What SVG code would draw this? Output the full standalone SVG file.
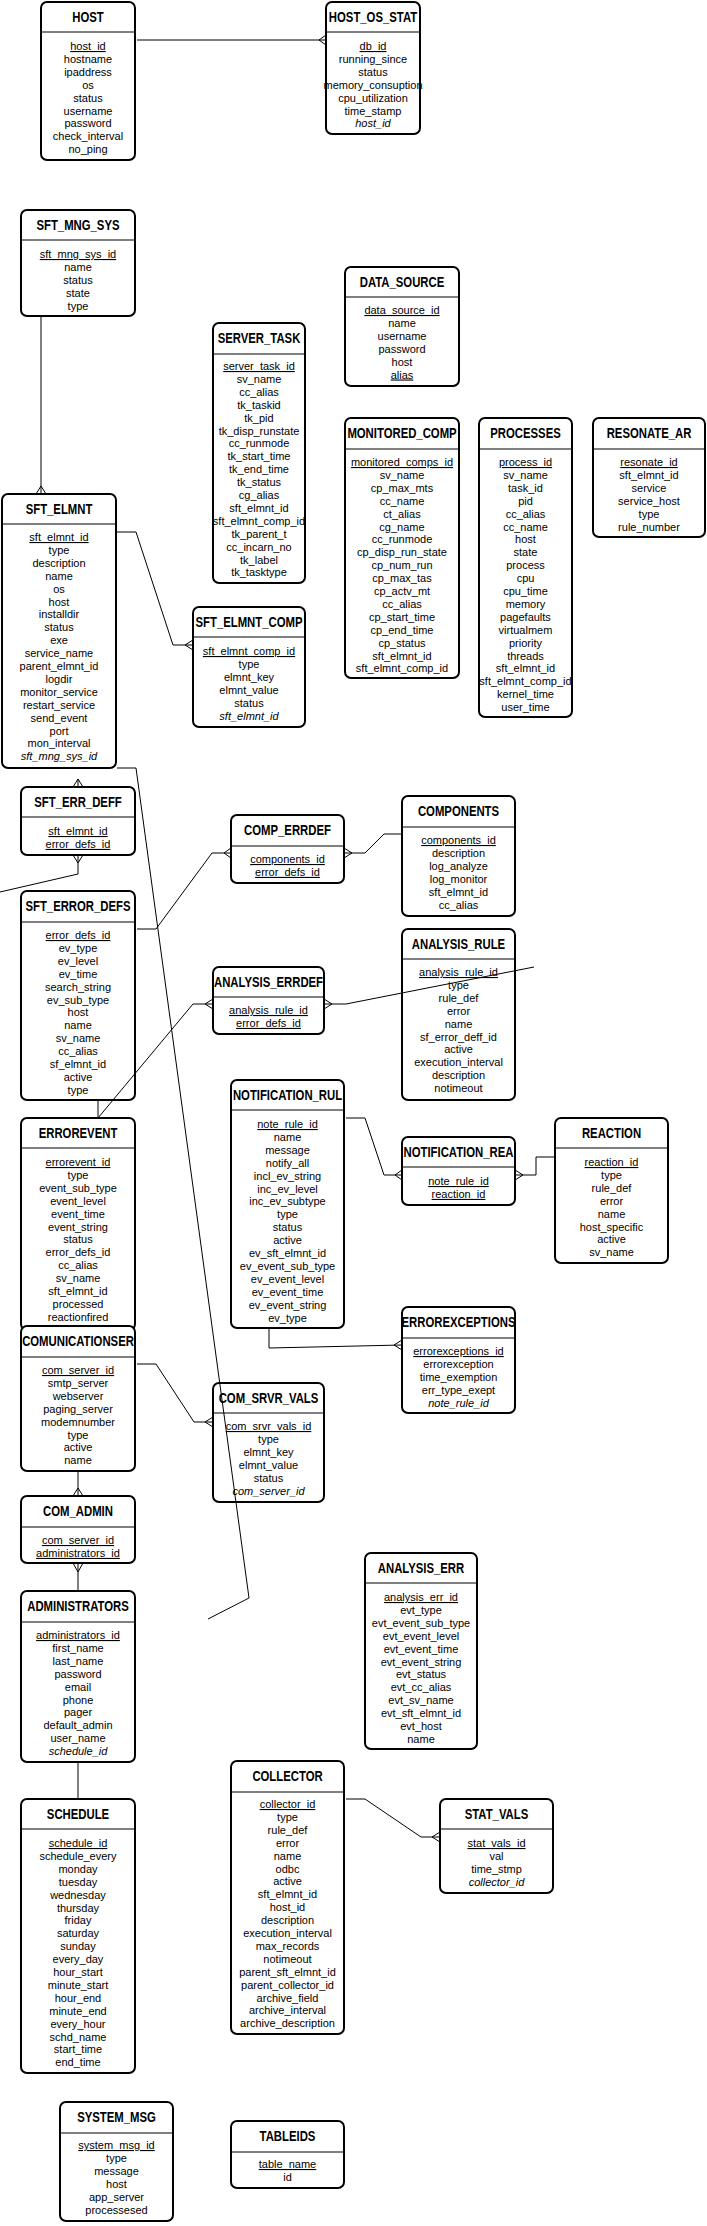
<svg xmlns="http://www.w3.org/2000/svg" width="707" height="2226" viewBox="0 0 707 2226">
<style>
.n rect{fill:#fff;stroke:#000;stroke-width:2}
.n line{stroke:#000;stroke-width:1}
.t{font-family:"Liberation Sans",Arial,sans-serif;font-size:14px;font-weight:bold;text-anchor:middle;fill:#000}
.f{font-family:"Liberation Sans",Arial,sans-serif;font-size:11px;text-anchor:middle;fill:#000}
.k{text-decoration:underline}
.i{font-style:italic}
#connectors{stroke:#000;stroke-width:1;fill:none}
</style>
<rect width="707" height="2226" fill="#fff"/>

<g id="HOST" class="n">
<rect x="41" y="2" width="94" height="158" rx="6"/><line x1="41" y1="32" x2="135" y2="32"/>
<text class="t" transform="translate(88,22) scale(0.81,1)">HOST</text>
<text class="f k" x="88" y="50">host_id</text>
<text class="f" x="88" y="50"><tspan x="88" dy="12.9">hostname</tspan><tspan x="88" dy="12.9">ipaddress</tspan><tspan x="88" dy="12.9">os</tspan><tspan x="88" dy="12.9">status</tspan><tspan x="88" dy="12.9">username</tspan><tspan x="88" dy="12.9">password</tspan><tspan x="88" dy="12.9">check_interval</tspan><tspan x="88" dy="12.9">no_ping</tspan></text>
</g>

<g id="HOST_OS_STAT" class="n">
<rect x="326" y="2" width="94" height="132" rx="6"/><line x1="326" y1="32" x2="420" y2="32"/>
<text class="t" transform="translate(373,22) scale(0.81,1)">HOST_OS_STAT</text>
<text class="f k" x="373" y="50">db_id</text>
<text class="f" x="373" y="50"><tspan x="373" dy="12.9">running_since</tspan><tspan x="373" dy="12.9">status</tspan><tspan x="373" dy="12.9">memory_consuption</tspan><tspan x="373" dy="12.9">cpu_utilization</tspan><tspan x="373" dy="12.9">time_stamp</tspan><tspan x="373" dy="12.9" class="i">host_id</tspan></text>
</g>

<g id="SFT_MNG_SYS" class="n">
<rect x="21" y="210" width="114" height="106" rx="6"/><line x1="21" y1="240" x2="135" y2="240"/>
<text class="t" transform="translate(78,230) scale(0.81,1)">SFT_MNG_SYS</text>
<text class="f k" x="78" y="258">sft_mng_sys_id</text>
<text class="f" x="78" y="258"><tspan x="78" dy="12.9">name</tspan><tspan x="78" dy="12.9">status</tspan><tspan x="78" dy="12.9">state</tspan><tspan x="78" dy="12.9">type</tspan></text>
</g>

<g id="DATA_SOURCE" class="n">
<rect x="345" y="267" width="114" height="119" rx="6"/><line x1="345" y1="297" x2="459" y2="297"/>
<text class="t" transform="translate(402,287) scale(0.81,1)">DATA_SOURCE</text>
<text class="f k" x="402" y="314">data_source_id</text>
<text class="f" x="402" y="314"><tspan x="402" dy="12.9">name</tspan><tspan x="402" dy="12.9">username</tspan><tspan x="402" dy="12.9">password</tspan><tspan x="402" dy="12.9">host</tspan></text>
<text class="f k" x="402" y="378.5">alias</text>
</g>

<g id="SERVER_TASK" class="n">
<rect x="213" y="323" width="92" height="260" rx="6"/><line x1="213" y1="354" x2="305" y2="354"/>
<text class="t" transform="translate(259,343) scale(0.81,1)">SERVER_TASK</text>
<text class="f k" x="259" y="370">server_task_id</text>
<text class="f" x="259" y="370"><tspan x="259" dy="12.9">sv_name</tspan><tspan x="259" dy="12.9">cc_alias</tspan><tspan x="259" dy="12.9">tk_taskid</tspan><tspan x="259" dy="12.9">tk_pid</tspan><tspan x="259" dy="12.9">tk_disp_runstate</tspan><tspan x="259" dy="12.9">cc_runmode</tspan><tspan x="259" dy="12.9">tk_start_time</tspan><tspan x="259" dy="12.9">tk_end_time</tspan><tspan x="259" dy="12.9">tk_status</tspan><tspan x="259" dy="12.9">cg_alias</tspan><tspan x="259" dy="12.9">sft_elmnt_id</tspan><tspan x="259" dy="12.9">sft_elmnt_comp_id</tspan><tspan x="259" dy="12.9">tk_parent_t</tspan><tspan x="259" dy="12.9">cc_incarn_no</tspan><tspan x="259" dy="12.9">tk_label</tspan><tspan x="259" dy="12.9">tk_tasktype</tspan></text>
</g>

<g id="MONITORED_COMP" class="n">
<rect x="345" y="418" width="114" height="260" rx="6"/><line x1="345" y1="449" x2="459" y2="449"/>
<text class="t" transform="translate(402,438) scale(0.81,1)">MONITORED_COMP</text>
<text class="f k" x="402" y="466">monitored_comps_id</text>
<text class="f" x="402" y="466"><tspan x="402" dy="12.9">sv_name</tspan><tspan x="402" dy="12.9">cp_max_mts</tspan><tspan x="402" dy="12.9">cc_name</tspan><tspan x="402" dy="12.9">ct_alias</tspan><tspan x="402" dy="12.9">cg_name</tspan><tspan x="402" dy="12.9">cc_runmode</tspan><tspan x="402" dy="12.9">cp_disp_run_state</tspan><tspan x="402" dy="12.9">cp_num_run</tspan><tspan x="402" dy="12.9">cp_max_tas</tspan><tspan x="402" dy="12.9">cp_actv_mt</tspan><tspan x="402" dy="12.9">cc_alias</tspan><tspan x="402" dy="12.9">cp_start_time</tspan><tspan x="402" dy="12.9">cp_end_time</tspan><tspan x="402" dy="12.9">cp_status</tspan><tspan x="402" dy="12.9">sft_elmnt_id</tspan><tspan x="402" dy="12.9">sft_elmnt_comp_id</tspan></text>
</g>

<g id="PROCESSES" class="n">
<rect x="479" y="418" width="93" height="299" rx="6"/><line x1="479" y1="449" x2="572" y2="449"/>
<text class="t" transform="translate(525.5,438) scale(0.81,1)">PROCESSES</text>
<text class="f k" x="525.5" y="466">process_id</text>
<text class="f" x="525.5" y="466"><tspan x="525.5" dy="12.9">sv_name</tspan><tspan x="525.5" dy="12.9">task_id</tspan><tspan x="525.5" dy="12.9">pid</tspan><tspan x="525.5" dy="12.9">cc_alias</tspan><tspan x="525.5" dy="12.9">cc_name</tspan><tspan x="525.5" dy="12.9">host</tspan><tspan x="525.5" dy="12.9">state</tspan><tspan x="525.5" dy="12.9">process</tspan><tspan x="525.5" dy="12.9">cpu</tspan><tspan x="525.5" dy="12.9">cpu_time</tspan><tspan x="525.5" dy="12.9">memory</tspan><tspan x="525.5" dy="12.9">pagefaults</tspan><tspan x="525.5" dy="12.9">virtualmem</tspan><tspan x="525.5" dy="12.9">priority</tspan><tspan x="525.5" dy="12.9">threads</tspan><tspan x="525.5" dy="12.9">sft_elmnt_id</tspan><tspan x="525.5" dy="12.9">sft_elmnt_comp_id</tspan><tspan x="525.5" dy="12.9">kernel_time</tspan><tspan x="525.5" dy="12.9">user_time</tspan></text>
</g>

<g id="RESONATE_AR" class="n">
<rect x="593" y="418" width="112" height="119" rx="6"/><line x1="593" y1="449" x2="705" y2="449"/>
<text class="t" transform="translate(649,438) scale(0.81,1)">RESONATE_AR</text>
<text class="f k" x="649" y="466">resonate_id</text>
<text class="f" x="649" y="466"><tspan x="649" dy="12.9">sft_elmnt_id</tspan><tspan x="649" dy="12.9">service</tspan><tspan x="649" dy="12.9">service_host</tspan><tspan x="649" dy="12.9">type</tspan><tspan x="649" dy="12.9">rule_number</tspan></text>
</g>

<g id="SFT_ELMNT" class="n">
<rect x="2" y="494" width="114" height="274" rx="6"/><line x1="2" y1="524" x2="116" y2="524"/>
<text class="t" transform="translate(59,514) scale(0.81,1)">SFT_ELMNT</text>
<text class="f k" x="59" y="541">sft_elmnt_id</text>
<text class="f" x="59" y="541"><tspan x="59" dy="12.9">type</tspan><tspan x="59" dy="12.9">description</tspan><tspan x="59" dy="12.9">name</tspan><tspan x="59" dy="12.9">os</tspan><tspan x="59" dy="12.9">host</tspan><tspan x="59" dy="12.9">installdir</tspan><tspan x="59" dy="12.9">status</tspan><tspan x="59" dy="12.9">exe</tspan><tspan x="59" dy="12.9">service_name</tspan><tspan x="59" dy="12.9">parent_elmnt_id</tspan><tspan x="59" dy="12.9">logdir</tspan><tspan x="59" dy="12.9">monitor_service</tspan><tspan x="59" dy="12.9">restart_service</tspan><tspan x="59" dy="12.9">send_event</tspan><tspan x="59" dy="12.9">port</tspan><tspan x="59" dy="12.9">mon_interval</tspan><tspan x="59" dy="12.9" class="i">sft_mng_sys_id</tspan></text>
</g>

<g id="SFT_ELMNT_COMP" class="n">
<rect x="193" y="607" width="112" height="120" rx="6"/><line x1="193" y1="637" x2="305" y2="637"/>
<text class="t" transform="translate(249,627) scale(0.81,1)">SFT_ELMNT_COMP</text>
<text class="f k" x="249" y="655">sft_elmnt_comp_id</text>
<text class="f" x="249" y="655"><tspan x="249" dy="12.9">type</tspan><tspan x="249" dy="12.9">elmnt_key</tspan><tspan x="249" dy="12.9">elmnt_value</tspan><tspan x="249" dy="12.9">status</tspan><tspan x="249" dy="12.9" class="i">sft_elmnt_id</tspan></text>
</g>

<g id="SFT_ERR_DEFF" class="n">
<rect x="21" y="787" width="114" height="68" rx="6"/><line x1="21" y1="817" x2="135" y2="817"/>
<text class="t" transform="translate(78,807) scale(0.81,1)">SFT_ERR_DEFF</text>
<text class="f k" x="78" y="835">sft_elmnt_id</text>
<text class="f k" x="78" y="847.9">error_defs_id</text>
</g>

<g id="COMP_ERRDEF" class="n">
<rect x="231" y="815" width="113" height="68" rx="6"/><line x1="231" y1="846" x2="344" y2="846"/>
<text class="t" transform="translate(287.5,835) scale(0.81,1)">COMP_ERRDEF</text>
<text class="f k" x="287.5" y="863">components_id</text>
<text class="f k" x="287.5" y="875.9">error_defs_id</text>
</g>

<g id="COMPONENTS" class="n">
<rect x="402" y="796" width="113" height="120" rx="6"/><line x1="402" y1="827" x2="515" y2="827"/>
<text class="t" transform="translate(458.5,816) scale(0.81,1)">COMPONENTS</text>
<text class="f k" x="458.5" y="844">components_id</text>
<text class="f" x="458.5" y="844"><tspan x="458.5" dy="12.9">description</tspan><tspan x="458.5" dy="12.9">log_analyze</tspan><tspan x="458.5" dy="12.9">log_monitor</tspan><tspan x="458.5" dy="12.9">sft_elmnt_id</tspan><tspan x="458.5" dy="12.9">cc_alias</tspan></text>
</g>

<g id="SFT_ERROR_DEFS" class="n">
<rect x="21" y="891" width="114" height="209" rx="6"/><line x1="21" y1="922" x2="135" y2="922"/>
<text class="t" transform="translate(78,911) scale(0.81,1)">SFT_ERROR_DEFS</text>
<text class="f k" x="78" y="939">error_defs_id</text>
<text class="f" x="78" y="939"><tspan x="78" dy="12.9">ev_type</tspan><tspan x="78" dy="12.9">ev_level</tspan><tspan x="78" dy="12.9">ev_time</tspan><tspan x="78" dy="12.9">search_string</tspan><tspan x="78" dy="12.9">ev_sub_type</tspan><tspan x="78" dy="12.9">host</tspan><tspan x="78" dy="12.9">name</tspan><tspan x="78" dy="12.9">sv_name</tspan><tspan x="78" dy="12.9">cc_alias</tspan><tspan x="78" dy="12.9">sf_elmnt_id</tspan><tspan x="78" dy="12.9">active</tspan><tspan x="78" dy="12.9">type</tspan></text>
</g>

<g id="ANALYSIS_RULE" class="n">
<rect x="402" y="929" width="113" height="171" rx="6"/><line x1="402" y1="959" x2="515" y2="959"/>
<text class="t" transform="translate(458.5,949) scale(0.81,1)">ANALYSIS_RULE</text>
<text class="f k" x="458.5" y="976">analysis_rule_id</text>
<text class="f" x="458.5" y="976"><tspan x="458.5" dy="12.9">type</tspan><tspan x="458.5" dy="12.9">rule_def</tspan><tspan x="458.5" dy="12.9">error</tspan><tspan x="458.5" dy="12.9">name</tspan><tspan x="458.5" dy="12.9">sf_error_deff_id</tspan><tspan x="458.5" dy="12.9">active</tspan><tspan x="458.5" dy="12.9">execution_interval</tspan><tspan x="458.5" dy="12.9">description</tspan><tspan x="458.5" dy="12.9">notimeout</tspan></text>
</g>

<g id="ANALYSIS_ERRDEF" class="n">
<rect x="213" y="967" width="111" height="67" rx="6"/><line x1="213" y1="997" x2="324" y2="997"/>
<text class="t" transform="translate(268.5,987) scale(0.81,1)">ANALYSIS_ERRDEF</text>
<text class="f k" x="268.5" y="1014">analysis_rule_id</text>
<text class="f k" x="268.5" y="1026.9">error_defs_id</text>
</g>

<g id="NOTIFICATION_RUL" class="n">
<rect x="231" y="1080" width="113" height="248" rx="6"/><line x1="231" y1="1110" x2="344" y2="1110"/>
<text class="t" transform="translate(287.5,1100) scale(0.81,1)">NOTIFICATION_RUL</text>
<text class="f k" x="287.5" y="1128">note_rule_id</text>
<text class="f" x="287.5" y="1128"><tspan x="287.5" dy="12.9">name</tspan><tspan x="287.5" dy="12.9">message</tspan><tspan x="287.5" dy="12.9">notify_all</tspan><tspan x="287.5" dy="12.9">incl_ev_string</tspan><tspan x="287.5" dy="12.9">inc_ev_level</tspan><tspan x="287.5" dy="12.9">inc_ev_subtype</tspan><tspan x="287.5" dy="12.9">type</tspan><tspan x="287.5" dy="12.9">status</tspan><tspan x="287.5" dy="12.9">active</tspan><tspan x="287.5" dy="12.9">ev_sft_elmnt_id</tspan><tspan x="287.5" dy="12.9">ev_event_sub_type</tspan><tspan x="287.5" dy="12.9">ev_event_level</tspan><tspan x="287.5" dy="12.9">ev_event_time</tspan><tspan x="287.5" dy="12.9">ev_event_string</tspan><tspan x="287.5" dy="12.9">ev_type</tspan></text>
</g>

<g id="NOTIFICATION_REA" class="n">
<rect x="402" y="1137" width="113" height="68" rx="6"/><line x1="402" y1="1167" x2="515" y2="1167"/>
<text class="t" transform="translate(458.5,1157) scale(0.81,1)">NOTIFICATION_REA</text>
<text class="f k" x="458.5" y="1185">note_rule_id</text>
<text class="f k" x="458.5" y="1197.9">reaction_id</text>
</g>

<g id="REACTION" class="n">
<rect x="555" y="1118" width="113" height="145" rx="6"/><line x1="555" y1="1148" x2="668" y2="1148"/>
<text class="t" transform="translate(611.5,1138) scale(0.81,1)">REACTION</text>
<text class="f k" x="611.5" y="1166">reaction_id</text>
<text class="f" x="611.5" y="1166"><tspan x="611.5" dy="12.9">type</tspan><tspan x="611.5" dy="12.9">rule_def</tspan><tspan x="611.5" dy="12.9">error</tspan><tspan x="611.5" dy="12.9">name</tspan><tspan x="611.5" dy="12.9">host_specific</tspan><tspan x="611.5" dy="12.9">active</tspan><tspan x="611.5" dy="12.9">sv_name</tspan></text>
</g>

<g id="ERROREVENT" class="n">
<rect x="21" y="1118" width="114" height="212" rx="6"/><line x1="21" y1="1148" x2="135" y2="1148"/>
<text class="t" transform="translate(78,1138) scale(0.81,1)">ERROREVENT</text>
<text class="f k" x="78" y="1166">errorevent_id</text>
<text class="f" x="78" y="1166"><tspan x="78" dy="12.9">type</tspan><tspan x="78" dy="12.9">event_sub_type</tspan><tspan x="78" dy="12.9">event_level</tspan><tspan x="78" dy="12.9">event_time</tspan><tspan x="78" dy="12.9">event_string</tspan><tspan x="78" dy="12.9">status</tspan><tspan x="78" dy="12.9">error_defs_id</tspan><tspan x="78" dy="12.9">cc_alias</tspan><tspan x="78" dy="12.9">sv_name</tspan><tspan x="78" dy="12.9">sft_elmnt_id</tspan><tspan x="78" dy="12.9">processed</tspan><tspan x="78" dy="12.9">reactionfired</tspan></text>
</g>

<g id="COMUNICATIONSER" class="n">
<rect x="21" y="1326" width="114" height="145" rx="6"/><line x1="21" y1="1357" x2="135" y2="1357"/>
<text class="t" transform="translate(78,1346) scale(0.81,1)">COMUNICATIONSER</text>
<text class="f k" x="78" y="1374">com_server_id</text>
<text class="f" x="78" y="1374"><tspan x="78" dy="12.9">smtp_server</tspan><tspan x="78" dy="12.9">webserver</tspan><tspan x="78" dy="12.9">paging_server</tspan><tspan x="78" dy="12.9">modemnumber</tspan><tspan x="78" dy="12.9">type</tspan><tspan x="78" dy="12.9">active</tspan><tspan x="78" dy="12.9">name</tspan></text>
</g>

<g id="COM_SRVR_VALS" class="n">
<rect x="213" y="1383" width="111" height="119" rx="6"/><line x1="213" y1="1413" x2="324" y2="1413"/>
<text class="t" transform="translate(268.5,1403) scale(0.81,1)">COM_SRVR_VALS</text>
<text class="f k" x="268.5" y="1430">com_srvr_vals_id</text>
<text class="f" x="268.5" y="1430"><tspan x="268.5" dy="12.9">type</tspan><tspan x="268.5" dy="12.9">elmnt_key</tspan><tspan x="268.5" dy="12.9">elmnt_value</tspan><tspan x="268.5" dy="12.9">status</tspan><tspan x="268.5" dy="12.9" class="i">com_server_id</tspan></text>
</g>

<g id="ERROREXCEPTIONS" class="n">
<rect x="402" y="1307" width="113" height="106" rx="6"/><line x1="402" y1="1338" x2="515" y2="1338"/>
<text class="t" transform="translate(458.5,1327) scale(0.81,1)">ERROREXCEPTIONS</text>
<text class="f k" x="458.5" y="1355">errorexceptions_id</text>
<text class="f" x="458.5" y="1355"><tspan x="458.5" dy="12.9">errorexception</tspan><tspan x="458.5" dy="12.9">time_exemption</tspan><tspan x="458.5" dy="12.9">err_type_exept</tspan><tspan x="458.5" dy="12.9" class="i">note_rule_id</tspan></text>
</g>

<g id="COM_ADMIN" class="n">
<rect x="21" y="1496" width="114" height="67" rx="6"/><line x1="21" y1="1527" x2="135" y2="1527"/>
<text class="t" transform="translate(78,1516) scale(0.81,1)">COM_ADMIN</text>
<text class="f k" x="78" y="1544">com_server_id</text>
<text class="f k" x="78" y="1556.9">administrators_id</text>
</g>

<g id="ADMINISTRATORS" class="n">
<rect x="21" y="1591" width="114" height="171" rx="6"/><line x1="21" y1="1622" x2="135" y2="1622"/>
<text class="t" transform="translate(78,1611) scale(0.81,1)">ADMINISTRATORS</text>
<text class="f k" x="78" y="1639">administrators_id</text>
<text class="f" x="78" y="1639"><tspan x="78" dy="12.9">first_name</tspan><tspan x="78" dy="12.9">last_name</tspan><tspan x="78" dy="12.9">password</tspan><tspan x="78" dy="12.9">email</tspan><tspan x="78" dy="12.9">phone</tspan><tspan x="78" dy="12.9">pager</tspan><tspan x="78" dy="12.9">default_admin</tspan><tspan x="78" dy="12.9">user_name</tspan><tspan x="78" dy="12.9" class="i">schedule_id</tspan></text>
</g>

<g id="ANALYSIS_ERR" class="n">
<rect x="365" y="1553" width="112" height="196" rx="6"/><line x1="365" y1="1583" x2="477" y2="1583"/>
<text class="t" transform="translate(421,1573) scale(0.81,1)">ANALYSIS_ERR</text>
<text class="f k" x="421" y="1601">analysis_err_id</text>
<text class="f" x="421" y="1601"><tspan x="421" dy="12.9">evt_type</tspan><tspan x="421" dy="12.9">evt_event_sub_type</tspan><tspan x="421" dy="12.9">evt_event_level</tspan><tspan x="421" dy="12.9">evt_event_time</tspan><tspan x="421" dy="12.9">evt_event_string</tspan><tspan x="421" dy="12.9">evt_status</tspan><tspan x="421" dy="12.9">evt_cc_alias</tspan><tspan x="421" dy="12.9">evt_sv_name</tspan><tspan x="421" dy="12.9">evt_sft_elmnt_id</tspan><tspan x="421" dy="12.9">evt_host</tspan><tspan x="421" dy="12.9">name</tspan></text>
</g>

<g id="COLLECTOR" class="n">
<rect x="231" y="1761" width="113" height="273" rx="6"/><line x1="231" y1="1792" x2="344" y2="1792"/>
<text class="t" transform="translate(287.5,1781) scale(0.81,1)">COLLECTOR</text>
<text class="f k" x="287.5" y="1808">collector_id</text>
<text class="f" x="287.5" y="1808"><tspan x="287.5" dy="12.9">type</tspan><tspan x="287.5" dy="12.9">rule_def</tspan><tspan x="287.5" dy="12.9">error</tspan><tspan x="287.5" dy="12.9">name</tspan><tspan x="287.5" dy="12.9">odbc</tspan><tspan x="287.5" dy="12.9">active</tspan><tspan x="287.5" dy="12.9">sft_elmnt_id</tspan><tspan x="287.5" dy="12.9">host_id</tspan><tspan x="287.5" dy="12.9">description</tspan><tspan x="287.5" dy="12.9">execution_interval</tspan><tspan x="287.5" dy="12.9">max_records</tspan><tspan x="287.5" dy="12.9">notimeout</tspan><tspan x="287.5" dy="12.9">parent_sft_elmnt_id</tspan><tspan x="287.5" dy="12.9">parent_collector_id</tspan><tspan x="287.5" dy="12.9">archive_field</tspan><tspan x="287.5" dy="12.9">archive_interval</tspan><tspan x="287.5" dy="12.9">archive_description</tspan></text>
</g>

<g id="STAT_VALS" class="n">
<rect x="440" y="1799" width="113" height="94" rx="6"/><line x1="440" y1="1829" x2="553" y2="1829"/>
<text class="t" transform="translate(496.5,1819) scale(0.81,1)">STAT_VALS</text>
<text class="f k" x="496.5" y="1847">stat_vals_id</text>
<text class="f" x="496.5" y="1847"><tspan x="496.5" dy="12.9">val</tspan><tspan x="496.5" dy="12.9">time_stmp</tspan><tspan x="496.5" dy="12.9" class="i">collector_id</tspan></text>
</g>

<g id="SCHEDULE" class="n">
<rect x="21" y="1799" width="114" height="274" rx="6"/><line x1="21" y1="1829" x2="135" y2="1829"/>
<text class="t" transform="translate(78,1819) scale(0.81,1)">SCHEDULE</text>
<text class="f k" x="78" y="1847">schedule_id</text>
<text class="f" x="78" y="1847"><tspan x="78" dy="12.9">schedule_every</tspan><tspan x="78" dy="12.9">monday</tspan><tspan x="78" dy="12.9">tuesday</tspan><tspan x="78" dy="12.9">wednesday</tspan><tspan x="78" dy="12.9">thursday</tspan><tspan x="78" dy="12.9">friday</tspan><tspan x="78" dy="12.9">saturday</tspan><tspan x="78" dy="12.9">sunday</tspan><tspan x="78" dy="12.9">every_day</tspan><tspan x="78" dy="12.9">hour_start</tspan><tspan x="78" dy="12.9">minute_start</tspan><tspan x="78" dy="12.9">hour_end</tspan><tspan x="78" dy="12.9">minute_end</tspan><tspan x="78" dy="12.9">every_hour</tspan><tspan x="78" dy="12.9">schd_name</tspan><tspan x="78" dy="12.9">start_time</tspan><tspan x="78" dy="12.9">end_time</tspan></text>
</g>

<g id="SYSTEM_MSG" class="n">
<rect x="60" y="2102" width="113" height="119" rx="6"/><line x1="60" y1="2133" x2="173" y2="2133"/>
<text class="t" transform="translate(116.5,2122) scale(0.81,1)">SYSTEM_MSG</text>
<text class="f k" x="116.5" y="2149">system_msg_id</text>
<text class="f" x="116.5" y="2149"><tspan x="116.5" dy="12.9">type</tspan><tspan x="116.5" dy="12.9">message</tspan><tspan x="116.5" dy="12.9">host</tspan><tspan x="116.5" dy="12.9">app_server</tspan><tspan x="116.5" dy="12.9">processesed</tspan></text>
</g>

<g id="TABLEIDS" class="n">
<rect x="231" y="2121" width="113" height="67" rx="6"/><line x1="231" y1="2152" x2="344" y2="2152"/>
<text class="t" transform="translate(287.5,2141) scale(0.81,1)">TABLEIDS</text>
<text class="f k" x="287.5" y="2168">table_name</text>
<text class="f" x="287.5" y="2168"><tspan x="287.5" dy="12.9">id</tspan></text>
</g>

<g id="connectors">
<polyline points="137,40 326,40"/><polyline points="326,35 319,40 326,45"/>
<polyline points="41,316 41,494"/><polyline points="36,494 41,486 46,494"/>
<polyline points="117,532 136,532 173,645 193,645"/><polyline points="193,640 185,645 193,650"/>
<polyline points="73,787 78,779 83,787"/><polyline points="78,779 78,787"/>
<polyline points="73,855 78,863 83,855"/><polyline points="78,855 78,874 0,892"/>
<polyline points="117,768 136,768 249,1598 208,1619"/>
<polyline points="137,929 156,929 212,853 231,853"/><polyline points="231,848 224,853 231,858"/>
<polyline points="344,853 365,853 384,834 402,834"/><polyline points="344,848 352,853 344,858"/>
<polyline points="213,1004 193,1004 98,1118"/><polyline points="213,999 205,1004 213,1009"/>
<polyline points="98,1100 98,1118"/>
<polyline points="324,1004 346,1004 534,967"/><polyline points="324,999 332,1004 324,1009"/>
<polyline points="346,1118 365,1118 384,1175 402,1175"/><polyline points="402,1170 395,1175 402,1180"/>
<polyline points="515,1175 536,1175 536,1157 555,1157"/><polyline points="515,1170 523,1175 515,1180"/>
<polyline points="269,1328 269,1348 402,1345"/><polyline points="402,1340 394,1345 402,1350"/>
<polyline points="137,1364 156,1364 194,1422 213,1422"/><polyline points="213,1417 205,1422 213,1427"/>
<polyline points="78,1471 78,1496"/><polyline points="73,1496 78,1488 83,1496"/>
<polyline points="78,1563 78,1591"/><polyline points="73,1563 78,1572 83,1563"/>
<polyline points="78,1762 78,1799"/>
<polyline points="346,1799 365,1799 421,1837 440,1837"/><polyline points="440,1832 432,1837 440,1842"/>
</g>
</svg>
